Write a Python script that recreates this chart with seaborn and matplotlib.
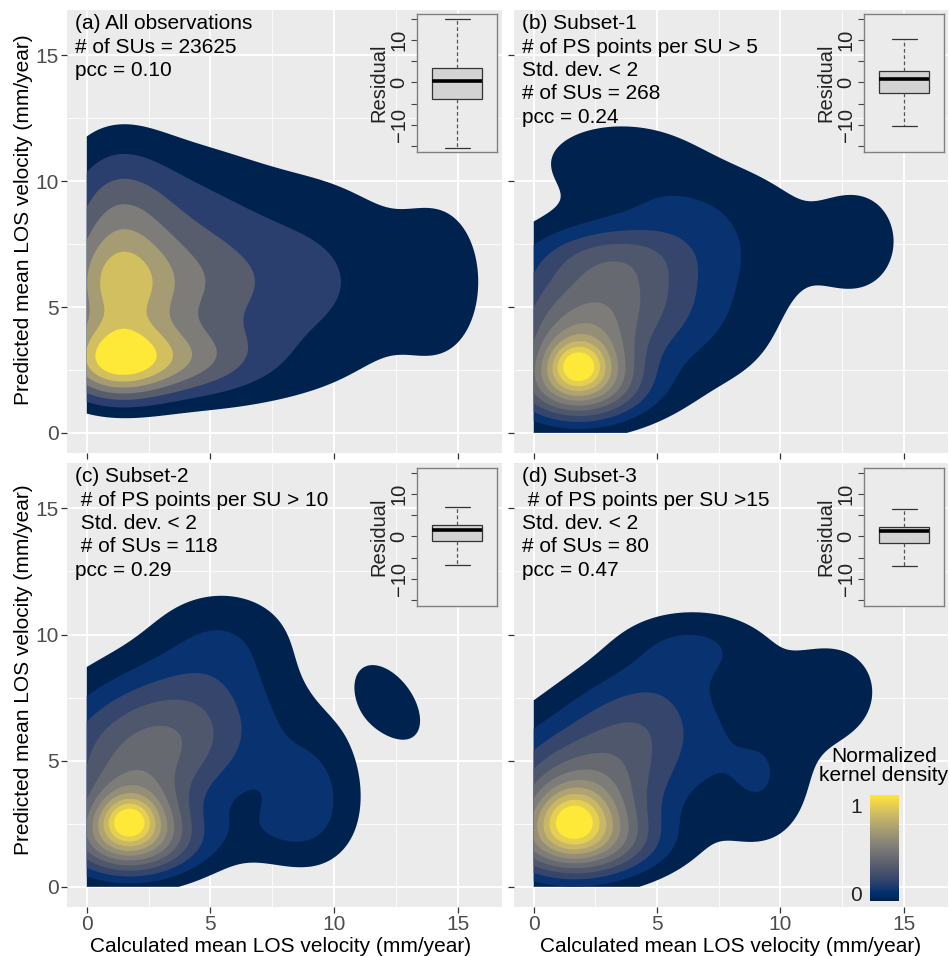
import numpy as np
import matplotlib
matplotlib.use("Agg")
import matplotlib.pyplot as plt
import seaborn as sns

sns.set_theme(style="darkgrid")
plt.rcParams["font.family"] = ["Liberation Sans", "DejaVu Sans"]

W, H = 949, 956

# ---- text shown in each panel -------------------------------------------
notes_a = ["(a) All observations", "# of SUs = 23625", "pcc = 0.10"]
notes_b = ["(b) Subset-1", "# of PS points per SU > 5", "Std. dev. < 2",
           "# of SUs = 268", "pcc = 0.24"]
notes_c = ["(c) Subset-2", " # of PS points per SU > 10", " Std. dev. < 2",
           " # of SUs = 118", "pcc = 0.29"]
notes_d = ["(d) Subset-3", " # of PS points per SU >15", "Std. dev. < 2",
           "# of SUs = 80", "pcc = 0.47"]

# ---- kernel density components per panel ---------------------------------
# (centre x, centre y, spread x, spread y, correlation, weight)
kde_a = [(1.0, 2.8, 1.6, 1.1, 0.0, 0.28),
         (1.0, 5.6, 1.6, 1.5, 0.0, 0.17),
         (1.0, 8.3, 1.6, 2.4, 0.0, 0.15),
         (3.5, 2.8, 2.5, 1.1, 0.0, 0.20),
         (3.5, 5.6, 2.5, 1.5, 0.0, 0.12),
         (3.5, 8.3, 2.5, 2.4, 0.0, 0.11),
         (9.0, 6.0, 3.3, 3.2, 0.0, 0.12),
         (14.5, 6.0, 1.4, 2.5, 0.0, 0.07)]
kde_b = [(1.8, 2.7, 0.7, 0.6, 0.0, 0.20),
         (1.8, 2.6, 1.5, 1.2, 0.0, 0.42),
         (1.8, 1.6, 2.3, 1.0, 0.0, 0.25),
         (2.2, 4.5, 2.8, 1.5, 0.0, 0.30),
         (3.5, 6.5, 2.8, 1.4, 0.0, 0.20),
         (3.0, 7.2, 2.5, 0.8, 0.0, 0.08),
         (7.5, 3.5, 2.5, 2.0, 0.0, 0.07),
         (3.5, 10.8, 3.0, 1.5, 0.0, 0.11),
         (6.2, 8.8, 2.0, 1.1, 0.0, 0.07),
         (9.5, 7.8, 2.2, 2.2, 0.0, 0.08),
         (13.3, 7.6, 1.3, 1.6, 0.0, 0.11)]
kde_c = [(1.7, 2.65, 0.7, 0.6, 0.0, 0.20),
         (1.7, 2.6, 1.5, 1.2, 0.0, 0.42),
         (1.8, 1.6, 2.4, 1.0, 0.0, 0.25),
         (2.3, 5.0, 3.0, 1.6, 0.0, 0.28),
         (3.8, 7.2, 3.0, 1.6, 0.0, 0.18),
         (9.2, 3.6, 1.5, 2.0, 0.0, 0.14),
         (7.5, 2.2, 1.6, 1.0, 0.0, 0.06),
         (5.5, 10.0, 2.2, 1.5, 0.0, 0.11),
         (12.3, 7.3, 1.1, 1.3, -0.5, 0.12)]
kde_d = [(1.6, 2.7, 0.85, 0.75, 0.0, 0.20),
         (1.6, 2.6, 1.8, 1.35, 0.0, 0.42),
         (1.8, 1.6, 2.7, 1.0, 0.0, 0.25),
         (2.5, 4.6, 3.0, 1.6, 0.0, 0.26),
         (4.5, 7.0, 2.4, 1.5, 0.0, 0.18),
         (9.3, 3.8, 1.5, 1.8, 0.0, 0.11),
         (6.5, 9.6, 2.2, 1.1, 0.0, 0.13),
         (12.4, 7.8, 1.3, 1.4, 0.0, 0.10),
         (10.5, 7.0, 1.8, 1.8, 0.0, 0.06)]

# contour bands: step of normalized density and number of bands
band_step = [0.12, 0.08, 0.08, 0.08]
band_count = [7, 11, 11, 11]

# ---- residual summaries for the inset box plots ----------------------------
res_low = [-15.5, -10.3, -6.7, -7.0]
res_q1 = [-4.0, -2.5, -1.0, -1.6]
res_med = [0.3, 0.8, 1.4, 1.2]
res_q3 = [3.5, 2.7, 2.6, 2.3]
res_high = [15.0, 10.2, 7.0, 6.5]

axis_ticks = [0, 5, 10, 15]
minor_ticks = [2.5, 7.5, 12.5]
res_ticks = [-15, -10, -5, 0, 5, 10, 15]
res_labels = ["", "\u221210", "", "0", "", "10", ""]

x_title = "Calculated mean LOS velocity (mm/year)"
y_title = "Predicted mean LOS velocity (mm/year)"


def box(l, t, r, b):
    return [l / W, 1 - b / H, (r - l) / W, (b - t) / H]


def density(components, X, Y):
    Z = np.zeros_like(X)
    for cx, cy, sx, sy, rho, w in components:
        dx = (X - cx) / sx
        dy = (Y - cy) / sy
        q = (dx * dx - 2 * rho * dx * dy + dy * dy) / (1 - rho * rho)
        Z += w * np.exp(-0.5 * q)
    return Z / Z.max()


fig = plt.figure(figsize=(W / 100, H / 100), dpi=100)
fig.patch.set_facecolor("white")

main_boxes = [(67, 10, 502, 453), (514, 10, 948, 453),
              (67, 463, 502, 907), (514, 463, 948, 907)]
inset_boxes = [(417, 14, 497, 152), (864, 14, 944, 152),
               (417, 468, 497, 606), (864, 468, 944, 606)]
panels = [kde_a, kde_b, kde_c, kde_d]
notes = [notes_a, notes_b, notes_c, notes_d]

gx = np.linspace(0, 16, 401)
GX, GY = np.meshgrid(gx, gx)
cmap = plt.get_cmap("cividis")

for i in range(4):
    ax = fig.add_axes(box(*main_boxes[i]))
    ax.set_facecolor("#EBEBEB")
    for s in ax.spines.values():
        s.set_visible(False)
    ax.set_xlim(-0.8, 16.8)
    ax.set_ylim(-0.8, 16.8)
    ax.set_xticks(axis_ticks)
    ax.set_yticks(axis_ticks)
    ax.set_xticks(minor_ticks, minor=True)
    ax.set_yticks(minor_ticks, minor=True)
    ax.grid(which="major", color="white", lw=1.3)
    ax.grid(which="minor", color="white", lw=0.6)
    ax.set_axisbelow(True)
    ax.tick_params(which="major", length=4, width=0.9, color="#333333",
                   labelsize=15, labelcolor="#4D4D4D", pad=2,
                   bottom=True, left=True)
    ax.tick_params(which="minor", length=0)
    if i < 2:
        ax.tick_params(labelbottom=False)
    else:
        ax.set_xlabel(x_title, fontsize=15, color="black")
        ax.xaxis.set_label_coords(0.49 if i == 2 else 0.5, -0.0676)
    if i % 2 == 1:
        ax.tick_params(labelleft=False)
    else:
        ax.set_ylabel(y_title, fontsize=15, color="black")
        ax.yaxis.set_label_coords(-0.078, 0.526 if i == 0 else 0.534)

    Z = density(panels[i], GX, GY)
    n = band_count[i]
    for k in range(n):
        lvl = band_step[i] * (k + 1)
        ax.contourf(GX, GY, Z, levels=[lvl, 1.01],
                    colors=[cmap(k / (n - 1))], antialiased=True, zorder=2)

    ax.text(0.018, 0.990, "\n".join(notes[i]), transform=ax.transAxes,
            ha="left", va="top", fontsize=15, color="black",
            linespacing=1.29, zorder=5)

    # residual box plot inset
    bx = fig.add_axes(box(*inset_boxes[i]))
    bx.set_facecolor("#EBEBEB")
    bx.grid(False)
    stats = [dict(med=res_med[i], q1=res_q1[i], q3=res_q3[i],
                  whislo=res_low[i], whishi=res_high[i], fliers=[])]
    bx.bxp(stats, positions=[1], widths=0.8, patch_artist=True,
           showfliers=False, capwidths=0.4,
           boxprops=dict(facecolor="#D3D3D3", edgecolor="#333333", lw=0.9),
           medianprops=dict(color="black", lw=2.6),
           whiskerprops=dict(color="#555555", lw=0.9, ls=(0, (3, 2))),
           capprops=dict(color="#333333", lw=0.9))
    bx.set_xlim(0.36, 1.64)
    bx.set_ylim(-16.4, 16.1)
    bx.set_xticks([])
    bx.set_yticks(res_ticks)
    bx.set_yticklabels(res_labels, rotation=90, va="center")
    bx.tick_params(axis="y", length=4, width=0.8, color="#444444",
                   labelsize=14.5, labelcolor="#222222", pad=2, left=True)
    for s in bx.spines.values():
        s.set_visible(True)
        s.set_color("#808080")
        s.set_linewidth(1.0)
    bx.set_ylabel("Residual", fontsize=14.5, color="#222222", labelpad=1)

# colour bar for normalized density
cax = fig.add_axes(box(870, 795, 899, 901))
grad = np.linspace(0, 1, 256)[:, None]
cax.imshow(grad, aspect="auto", cmap=cmap, origin="lower",
           extent=[0, 1, -0.09, 1.114])
cax.set_xlim(0, 1)
cax.set_ylim(-0.09, 1.114)
cax.set_xticks([])
cax.set_yticks([0, 1])
cax.set_yticklabels(["0", "1"])
cax.tick_params(axis="y", length=0, labelsize=15, labelcolor="#222222", pad=6)
cax.grid(False)
for s in cax.spines.values():
    s.set_visible(False)
fig.text(884 / W, 1 - 766 / H, "Normalized\nkernel density", ha="center",
         va="center", fontsize=15, color="black", linespacing=1.05)

fig.savefig("out.png", dpi=100)
